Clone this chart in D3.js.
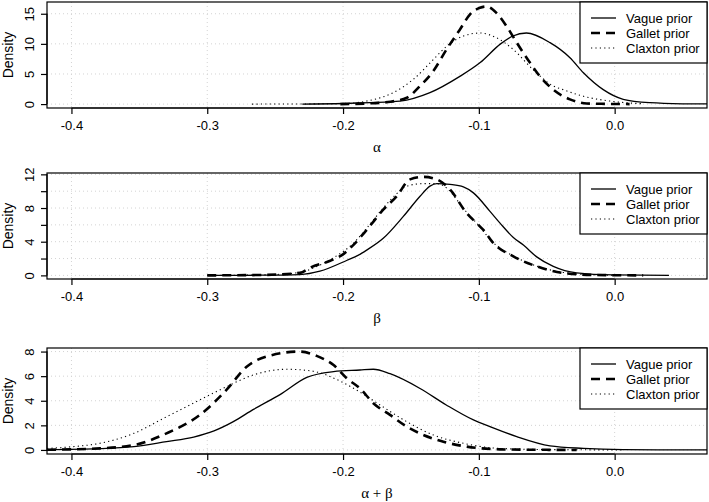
<!DOCTYPE html>
<html><head><meta charset="utf-8">
<script src="https://cdn.jsdelivr.net/npm/d3@7"></script>
<style>
body{margin:0;background:#fff;}
text{font-family:"Liberation Sans",Arial,Helvetica,sans-serif;fill:#000;}
</style></head>
<body><svg id="c" width="709" height="502"></svg>
<script>
// ---- data ----
const xTicks = [-0.4, -0.3, -0.2, -0.1, 0.0];
const xTickLabels = ["-0.4", "-0.3", "-0.2", "-0.1", "0.0"];
const seriesNames = ["Vague prior", "Gallet prior", "Claxton prior"];
const panelLabels = ["α", "β", "α + β"];

// alpha
const alphaVagueX = [-0.23,-0.2,-0.18,-0.158,-0.136,-0.114,-0.099,-0.084,-0.075,-0.065,-0.0476,-0.0329,-0.023,-0.0084,0.0063,0.026,0.05,0.068];
const alphaVagueY = [0,0.1,0.25,0.5,1.9,4.6,6.9,10.0,11.3,11.8,10.2,7.7,5.2,2.4,0.8,0.23,0.05,0.02];
const alphaGalletX = [-0.202,-0.1826,-0.165,-0.153,-0.1433,-0.1335,-0.1237,-0.1139,-0.1065,-0.0992,-0.0942,-0.0869,-0.0795,-0.0721,-0.0623,-0.055,-0.0452,-0.0329,-0.0206,-0.005,0.011];
const alphaGalletY = [0,0.1,0.4,1.05,3,5.5,9.1,12.4,14.9,16,16.2,15.1,12.9,10.2,6.85,4.6,2.4,0.78,0.1,0.03,0];
const alphaClaxtonX = [-0.267,-0.23,-0.2,-0.1826,-0.163,-0.1483,-0.1335,-0.1237,-0.1114,-0.0992,-0.0869,-0.0746,-0.06,-0.0452,-0.038,-0.023,-0.0034,0.021];
const alphaClaxtonY = [0,0.02,0.1,0.5,1.9,4.1,7.4,9.6,11.3,11.8,11,9.06,5.7,3,2.4,1.3,0.5,0.05];

// beta
const betaVagueX = [-0.293,-0.26,-0.2317,-0.217,-0.197,-0.1887,-0.1826,-0.1704,-0.1556,-0.1433,-0.136,-0.131,-0.1212,-0.1114,-0.104,-0.0918,-0.0844,-0.0746,-0.0672,-0.0574,-0.0452,-0.028,-0.001,0.04];
const betaVagueY = [0,0.02,0.1,0.5,1.8,2.4,3.0,4.4,7.0,9.4,10.6,10.9,10.8,10.5,9.8,7.6,6.2,4.5,3.6,2.2,1.07,0.3,0.05,0];
const betaGalletX = [-0.3,-0.26,-0.2317,-0.2245,-0.207,-0.2,-0.1925,-0.1826,-0.1704,-0.1605,-0.1507,-0.1409,-0.131,-0.1212,-0.109,-0.1016,-0.0967,-0.0894,-0.0746,-0.0574,-0.0378,-0.015,0.021];
const betaGalletY = [0,0.05,0.3,0.9,1.9,2.5,3.6,5.4,7.8,9.4,11.4,11.7,11.4,10.2,7.4,6.2,5.4,3.85,2.26,1.07,0.28,0.05,0];
const betaClaxtonX = [-0.3,-0.26,-0.2317,-0.22,-0.207,-0.1925,-0.1826,-0.1704,-0.1605,-0.1531,-0.1409,-0.131,-0.1212,-0.1163,-0.109,-0.1016,-0.0894,-0.0746,-0.0574,-0.0378,-0.015,0.005];
const betaClaxtonY = [0,0.05,0.35,1.0,2.1,3.8,5.6,8.0,9.7,10.6,10.9,10.9,10.0,9.0,7.5,6.2,3.9,2.3,1.1,0.35,0.05,0];

// alpha + beta
const sumVagueX = [-0.418,-0.38,-0.354,-0.33,-0.31,-0.295,-0.2808,-0.266,-0.2464,-0.2267,-0.207,-0.1875,-0.1777,-0.1654,-0.1433,-0.124,-0.104,-0.0918,-0.0721,-0.0476,-0.023,0.006,0.04,0.068];
const sumVagueY = [0.02,0.1,0.27,0.68,1.05,1.55,2.3,3.3,4.5,5.9,6.37,6.5,6.56,6.2,5.0,3.66,2.44,1.9,1.08,0.33,0.13,0.03,0.01,0];
const sumGalletX = [-0.418,-0.379,-0.354,-0.33,-0.3054,-0.2857,-0.271,-0.2562,-0.2317,-0.2194,-0.207,-0.1973,-0.1875,-0.1777,-0.1654,-0.1531,-0.1409,-0.1261,-0.109,-0.0844,-0.05,-0.028];
const sumGalletY = [0.02,0.13,0.4,1.35,2.85,4.9,6.77,7.6,8.0,7.65,6.9,5.83,5.0,3.8,2.85,1.9,1.22,0.67,0.27,0.05,0.01,0];
const sumClaxtonX = [-0.418,-0.3986,-0.379,-0.354,-0.33,-0.3054,-0.2857,-0.266,-0.2415,-0.222,-0.2022,-0.1875,-0.1728,-0.1531,-0.1335,-0.1114,-0.087,-0.05,-0.02,0.006];
const sumClaxtonY = [0.12,0.27,0.54,1.35,2.7,4.07,5.15,6.1,6.56,6.4,5.6,4.7,3.66,2.3,1.22,0.54,0.14,0.03,0.01,0];

const yTicksA = [0,5,10,15], yLabA = [0,5,10,15];
const yTicksB = [0,2,4,6,8,10,12], yLabB = [0,4,8,12];
const yTicksS = [0,2,4,6,8], yLabS = [0,2,4,6,8];

// ---- layout ----
const svg = d3.select("#c");
const L = 47, R = 707;
const x = d3.scaleLinear().domain([-0.418, 0.068]).range([L, R]);

const panels = [
  {top:2, bottom:108, ydom:[-0.65,16.95], yt:yTicksA, yl:yLabA, label:panelLabels[0],
   series:[[alphaVagueX,alphaVagueY],[alphaGalletX,alphaGalletY],[alphaClaxtonX,alphaClaxtonY]]},
  {top:173, bottom:279, ydom:[-0.43,12.16], yt:yTicksB, yl:yLabB, label:panelLabels[1],
   series:[[betaVagueX,betaVagueY],[betaGalletX,betaGalletY],[betaClaxtonX,betaClaxtonY]]},
  {top:348, bottom:454, ydom:[-0.33,8.29], yt:yTicksS, yl:yLabS, label:panelLabels[2],
   series:[[sumVagueX,sumVagueY],[sumGalletX,sumGalletY],[sumClaxtonX,sumClaxtonY]]}
];
const styles = [
  {w:1.3, dash:null},
  {w:2.6, dash:"9,6"},
  {w:1.1, dash:"1.2,3.2"}
];

panels.forEach((p,i)=>{
  const y = d3.scaleLinear().domain(p.ydom).range([p.bottom, p.top]);
  const g = svg.append("g");
  const cid = "clip"+i;
  svg.append("clipPath").attr("id",cid).append("rect")
    .attr("x",L).attr("y",p.top).attr("width",R-L).attr("height",p.bottom-p.top);
  // grid
  g.selectAll(".gx").data(xTicks).enter().append("line")
    .attr("x1",d=>x(d)).attr("x2",d=>x(d)).attr("y1",p.top).attr("y2",p.bottom)
    .attr("stroke","#d3d3d3").attr("stroke-width",1).attr("stroke-dasharray","1,3");
  g.selectAll(".gy").data(p.yt).enter().append("line")
    .attr("x1",L).attr("x2",R).attr("y1",d=>y(d)).attr("y2",d=>y(d))
    .attr("stroke","#d3d3d3").attr("stroke-width",1).attr("stroke-dasharray","1,3");
  // curves
  const line = d3.line().x(d=>x(d[0])).y(d=>y(d[1])).curve(d3.curveMonotoneX);
  p.series.forEach((s,k)=>{
    const pts = s[0].map((v,j)=>[v, s[1][j]]);
    g.append("path").attr("d",line(pts)).attr("fill","none").attr("stroke","#000")
      .attr("stroke-width",styles[k].w).attr("stroke-dasharray",styles[k].dash)
      .attr("clip-path","url(#"+cid+")");
  });
  // box
  g.append("rect").attr("x",L).attr("y",p.top).attr("width",R-L).attr("height",p.bottom-p.top)
    .attr("fill","none").attr("stroke","#000").attr("stroke-width",1.2);
  // x axis
  const xa = g.append("g").attr("transform",`translate(0,${p.bottom})`)
    .call(d3.axisBottom(x).tickValues(xTicks).tickFormat((d,j)=>xTickLabels[j]).tickSize(6).tickSizeOuter(0).tickPadding(7));
  xa.select(".domain").attr("d",`M${x(xTicks[0])},0H${x(xTicks[xTicks.length-1])}`).attr("stroke-width",1.2);
  xa.selectAll("line").attr("stroke-width",1.2);
  xa.selectAll("text").style("font-size","13px");
  // y axis
  const ya = g.append("g").attr("transform",`translate(${L},0)`)
    .call(d3.axisLeft(y).tickValues(p.yt).tickFormat(d=>p.yl.includes(d)?String(d):"").tickSize(6).tickSizeOuter(0));
  ya.select(".domain").attr("d",`M0,${y(p.yt[0])}V${y(p.yt[p.yt.length-1])}`).attr("stroke-width",1.2);
  ya.selectAll("line").attr("stroke-width",1.2);
  ya.selectAll("text").attr("x",null).attr("dy",null)
    .attr("transform",d=>`translate(-13,0) rotate(-90)`).attr("text-anchor","middle")
    .style("font-size","13px");
  // labels
  g.append("text").attr("transform",`translate(13,${(p.top+p.bottom)/2}) rotate(-90)`)
    .attr("text-anchor","middle").style("font-size","14px").text("Density");
  g.append("text").attr("x",(L+R)/2).attr("y",p.bottom+44).attr("text-anchor","middle")
    .style("font-family","'Liberation Serif','Times New Roman',serif").style("font-size","15px").text(p.label);
  // legend
  const lg = g.append("g").attr("transform",`translate(580,${p.top})`);
  lg.append("rect").attr("x",0).attr("y",0).attr("width",R-580).attr("height",61)
    .attr("fill","#fff").attr("stroke","#000").attr("stroke-width",1.2);
  seriesNames.forEach((nm,k)=>{
    const yy = 16 + k*15;
    lg.append("line").attr("x1",11).attr("x2",36).attr("y1",yy).attr("y2",yy)
      .attr("stroke","#000").attr("stroke-width",styles[k].w).attr("stroke-dasharray",styles[k].dash);
    lg.append("text").attr("x",46).attr("y",yy).attr("dy","0.35em").style("font-size","13px").text(nm);
  });
});
</script></body></html>
